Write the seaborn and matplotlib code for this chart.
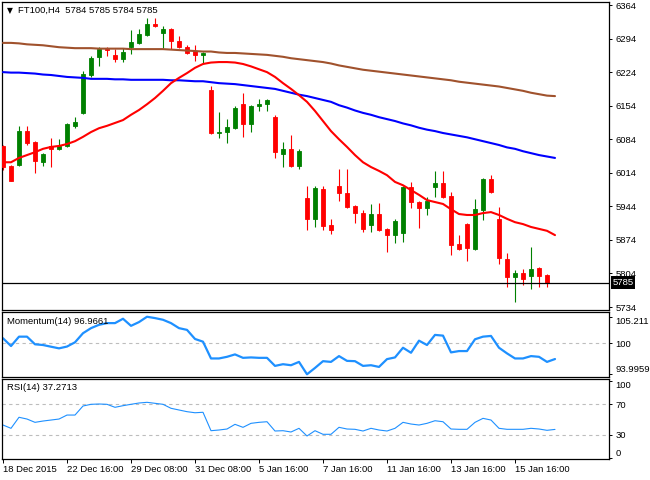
import numpy as np
import pandas as pd
import matplotlib
matplotlib.use("Agg")
import matplotlib.pyplot as plt
import matplotlib.transforms as mtransforms
import seaborn as sns

# ---------------- data ----------------
opens = [6070, 6028, 6030, 6101, 6078, 6037, 6070, 6064, 6070, 6112,
         6139, 6218, 6256, 6272, 6260, 6251, 6276, 6285, 6301, 6324,
         6306, 6314, 6289, 6276, 6268, 6260, 6187, 6097, 6099, 6107,
         6157, 6116, 6153, 6157, 6130, 6053, 6064, 6028, 5961, 5918,
         5980, 5905, 5986, 5972, 5945, 5930, 5905, 5928, 5897, 5884,
         5888, 5984, 5953, 5941, 5984, 5993, 5966, 5865, 5907, 5855,
         5936, 6001, 5918, 5834, 5797, 5805, 5799, 5815, 5801, 5784]
highs = [6072, 6030, 6112, 6112, 6080, 6055, 6087, 6084, 6118, 6130,
         6226, 6258, 6276, 6276, 6272, 6274, 6312, 6314, 6337, 6337,
         6320, 6316, 6299, 6280, 6280, 6266, 6195, 6141, 6126, 6153,
         6180, 6155, 6168, 6168, 6135, 6078, 6093, 6064, 5986, 5986,
         5986, 5918, 6022, 6022, 5947, 5936, 5949, 5951, 5899, 5918,
         5986, 5995, 5955, 5963, 6018, 6018, 5974, 5884, 5909, 5959,
         6003, 6009, 5943, 5847, 5811, 5813, 5859, 5817, 5803, 5785]
lows = [6020, 5996, 6028, 6072, 6014, 6028, 6026, 6062, 6068, 6107,
        6137, 6214, 6237, 6258, 6245, 6245, 6262, 6283, 6299, 6318,
        6274, 6272, 6274, 6262, 6247, 6243, 6095, 6087, 6076, 6105,
        6089, 6099, 6143, 6143, 6045, 6026, 6026, 6022, 5895, 5901,
        5895, 5886, 5955, 5941, 5909, 5890, 5891, 5893, 5849, 5868,
        5870, 5941, 5899, 5926, 5963, 5961, 5842, 5853, 5830, 5853,
        5915, 5972, 5824, 5776, 5744, 5780, 5772, 5776, 5776, 5784]
closes = [6026, 5997, 6101, 6076, 6039, 6053, 6064, 6070, 6116, 6120,
          6220, 6253, 6272, 6270, 6251, 6266, 6287, 6303, 6324, 6320,
          6314, 6289, 6276, 6264, 6260, 6264, 6097, 6099, 6110, 6149,
          6116, 6153, 6157, 6166, 6057, 6064, 6028, 6059, 5918, 5982,
          5903, 5895, 5972, 5943, 5930, 5897, 5928, 5895, 5884, 5913,
          5984, 5953, 5941, 5955, 5993, 5963, 5863, 5855, 5857, 5938,
          6001, 5974, 5836, 5797, 5805, 5792, 5813, 5799, 5784, 5785]

ma_red = [6036, 6036, 6045, 6051, 6057, 6064, 6068, 6070, 6074, 6080,
          6089, 6099, 6107, 6112, 6118, 6124, 6135, 6145, 6157, 6170,
          6185, 6201, 6212, 6222, 6233, 6241, 6244, 6245, 6245, 6244,
          6241, 6236, 6230, 6224, 6214, 6201, 6189, 6176, 6162, 6143,
          6122, 6101, 6084, 6068, 6051, 6036, 6026, 6018, 6009, 5995,
          5988, 5978, 5968, 5957, 5953, 5949, 5938, 5928, 5926, 5926,
          5930, 5932, 5926, 5918, 5911, 5907, 5901, 5897, 5893, 5884]
ma_blue = [6224, 6223, 6223, 6222, 6221, 6219, 6218, 6216, 6214, 6213,
           6212, 6210, 6210, 6210, 6209, 6209, 6208, 6208, 6208, 6208,
           6208, 6207, 6207, 6206, 6205, 6205, 6203, 6201, 6200, 6199,
           6197, 6195, 6193, 6191, 6189, 6185, 6181, 6177, 6174, 6170,
           6166, 6162, 6155, 6150, 6144, 6139, 6135, 6130, 6126, 6122,
           6117, 6113, 6108, 6104, 6101, 6097, 6094, 6091, 6088, 6084,
           6080, 6076, 6072, 6067, 6064, 6059, 6055, 6051, 6048, 6045]
ma_brown = [6285, 6285, 6284, 6282, 6281, 6280, 6278, 6276, 6275, 6274,
            6274, 6274, 6273, 6273, 6273, 6273, 6272, 6272, 6272, 6272,
            6272, 6271, 6270, 6269, 6268, 6267, 6267, 6265, 6264, 6264,
            6263, 6262, 6261, 6260, 6258, 6256, 6253, 6251, 6249, 6247,
            6245, 6242, 6238, 6235, 6232, 6229, 6227, 6225, 6223, 6221,
            6219, 6217, 6215, 6213, 6211, 6209, 6207, 6204, 6202, 6200,
            6198, 6196, 6194, 6191, 6188, 6185, 6181, 6178, 6175, 6174]

momentum = [101.02, 99.50, 101.33, 101.33, 99.84, 99.70, 99.37, 99.05, 99.40, 100.23,
            102.00, 102.99, 103.64, 103.97, 103.97, 104.82, 103.44, 104.17, 105.211, 104.95,
            104.62, 103.97, 102.99, 102.65, 100.88, 100.35, 97.08, 97.08, 97.40, 97.87,
            97.20, 97.28, 97.20, 97.20, 95.63, 95.96, 95.76, 96.41, 93.9959, 95.23,
            96.55, 96.41, 97.54, 96.61, 96.55, 95.63, 95.76, 95.43, 96.95, 97.28,
            99.17, 98.19, 100.55, 99.70, 101.67, 101.53, 98.26, 98.52, 98.52, 100.82,
            101.33, 101.47, 99.17, 98.07, 97.08, 97.08, 97.54, 97.40, 96.41, 96.9661]
rsi = [43.0, 38.7, 53.1, 50.8, 46.5, 48.2, 49.5, 50.8, 56.0, 56.0,
       67.8, 70.0, 70.4, 70.0, 66.1, 68.2, 70.0, 71.7, 72.6, 71.3,
       70.0, 64.8, 62.6, 60.4, 59.0, 59.6, 35.6, 36.5, 37.8, 43.9,
       40.0, 45.2, 46.5, 47.3, 35.2, 35.6, 33.9, 38.7, 28.7, 35.6,
       30.9, 30.9, 40.0, 37.8, 37.4, 35.2, 38.7, 36.5, 35.2, 38.7,
       46.5, 44.3, 43.0, 45.2, 48.6, 47.3, 37.8, 37.4, 37.4, 46.5,
       51.7, 49.5, 38.7, 37.4, 37.4, 37.4, 38.7, 37.8, 36.1, 37.2713]

date_tick_bars = [0, 8, 16, 24, 32, 40, 48, 56, 64]
date_tick_labels = ["18 Dec 2015", "22 Dec 16:00", "29 Dec 08:00", "31 Dec 08:00",
                    "5 Jan 16:00", "7 Jan 16:00", "11 Jan 16:00", "13 Jan 16:00",
                    "15 Jan 16:00"]
price_ticks = [6364, 6294, 6224, 6154, 6084, 6014, 5944, 5874, 5804, 5734]
mom_ticks = [105.211, 100, 93.9959]
mom_tick_labels = ["105.211", "100", "93.9959"]
rsi_ticks = [100, 70, 30, 0]
last_price = 5785
header = "FT100,H4  5784 5785 5784 5785"
mom_label = "Momentum(14) 96.9661"
rsi_label = "RSI(14) 37.2713"

df = pd.DataFrame({"bar": np.arange(len(opens)), "open": opens, "high": highs,
                   "low": lows, "close": closes, "ma_red": ma_red,
                   "ma_blue": ma_blue, "ma_brown": ma_brown,
                   "momentum": momentum, "rsi": rsi})

# ---------------- style ----------------
sns.set_style("white")
plt.rcParams["font.family"] = ["Liberation Sans", "DejaVu Sans"]
FS = 6.8

W, H = 650, 480
fig = plt.figure(figsize=(W / 100, H / 100), dpi=100)
fig.patch.set_facecolor("white")

def rect(x0, y0, x1, y1):
    return [x0 / W, 1 - y1 / H, (x1 - x0) / W, (y1 - y0) / H]

ax = fig.add_axes(rect(2, 2, 609, 310))
axm = fig.add_axes(rect(2, 312, 609, 377))
axr = fig.add_axes(rect(2, 379, 609, 459))

GREEN = "#008000"
RED = "#FF0000"
xlim = (-0.125, 75.75)

# candles
up = df["close"] >= df["open"]
cols = np.where(up, GREEN, RED)
ax.vlines(df["bar"], df["low"], df["high"], colors=cols, linewidth=0.8, zorder=2)
body_bottom = np.minimum(df["open"], df["close"])
body_h = np.abs(df["close"] - df["open"])
ax.bar(df["bar"], body_h, bottom=body_bottom, width=0.62, color=cols,
       edgecolor=cols, linewidth=0.6, zorder=3)

# moving averages
sns.lineplot(data=df, x="bar", y="ma_brown", ax=ax, color="#A0522D", linewidth=1.5, zorder=4)
sns.lineplot(data=df, x="bar", y="ma_blue", ax=ax, color="#0000FF", linewidth=1.5, zorder=4)
sns.lineplot(data=df, x="bar", y="ma_red", ax=ax, color="#FF0000", linewidth=1.5, zorder=4)

ax.axhline(last_price, color="black", linewidth=0.9, zorder=5)
ax.set_xlim(*xlim)
ax.set_ylim(5727.8, 6370.3)

# momentum
axm.axhline(100, color="#BDBDBD", linewidth=0.8, linestyle=(0, (3, 3)))
sns.lineplot(data=df, x="bar", y="momentum", ax=axm, color="#1E90FF", linewidth=1.6)
axm.set_xlim(*xlim)
axm.set_ylim(93.465, 106.136)

# rsi
for lv in (70, 30):
    axr.axhline(lv, color="#BDBDBD", linewidth=0.8, linestyle=(0, (3, 3)))
sns.lineplot(data=df, x="bar", y="rsi", ax=axr, color="#1E90FF", linewidth=0.8)
axr.set_xlim(*xlim)
axr.set_ylim(-1.3, 103)

for a in (ax, axm, axr):
    a.set_xlabel("")
    a.set_ylabel("")
    a.yaxis.tick_right()
    a.tick_params(axis="y", direction="out", length=2.5, width=0.7, pad=2,
                  labelsize=FS, colors="black", right=True, left=False)
    for s in a.spines.values():
        s.set_color("black")
        s.set_linewidth(0.9)
    a.set_facecolor("white")
    if a is not axr:
        a.set_xticks([])

ax.set_yticks(price_ticks)
ax.set_yticklabels([str(t) for t in price_ticks])

axm.set_yticks(mom_ticks)
axm.set_yticklabels(mom_tick_labels)
mlabels = axm.get_yticklabels()
mlabels[0].set_va("top")
mlabels[-1].set_va("bottom")

axr.set_yticks(rsi_ticks)
axr.set_yticklabels([str(t) for t in rsi_ticks])
rl = axr.get_yticklabels()
rl[0].set_va("top")
rl[-1].set_va("bottom")

axr.set_xticks(date_tick_bars)
axr.set_xticklabels(date_tick_labels, ha="left")
axr.tick_params(axis="x", direction="out", length=3, width=0.7, pad=1.5,
                labelsize=FS, colors="black", bottom=True)

# current price tag
trans = mtransforms.blended_transform_factory(ax.transAxes, ax.transData)
ax.text(1.006, last_price, str(last_price), transform=trans, color="white",
        fontsize=FS, va="center", ha="left", clip_on=False, zorder=10,
        bbox=dict(facecolor="black", edgecolor="none", pad=1.2))

# header and panel labels
fig.text(9.5 / W, 1 - 10.5 / H, "\u25BC", fontsize=5.5, ha="center", va="center",
         color="black", family=["DejaVu Sans"])
fig.text(18 / W, 1 - 10.5 / H, header, fontsize=FS, ha="left", va="center", color="black")
fig.text(7 / W, 1 - 321.5 / H, mom_label, fontsize=FS, ha="left", va="center", color="black")
fig.text(7 / W, 1 - 388 / H, rsi_label, fontsize=FS, ha="left", va="center", color="black")

fig.savefig("out.png", dpi=100, facecolor="white")
